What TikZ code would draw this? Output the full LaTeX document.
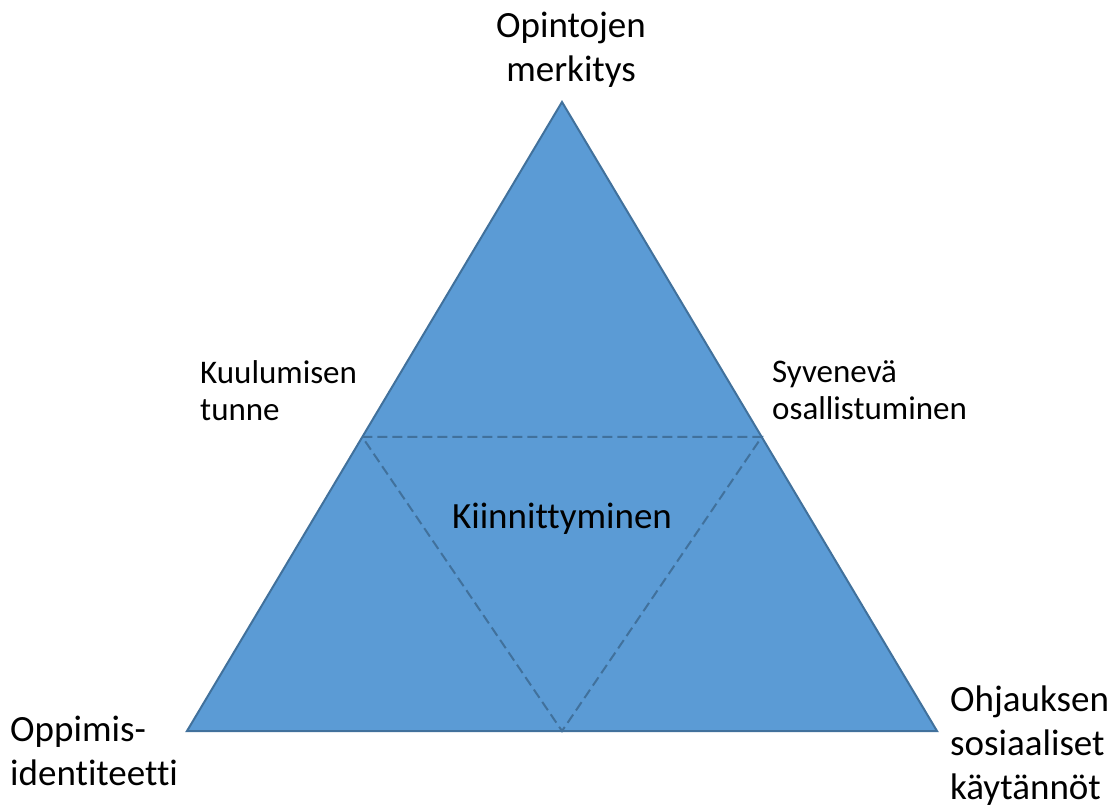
\documentclass[tikz,border=0pt]{standalone}
\usepackage{fontspec}
\usetikzlibrary{calc}
\setmainfont{Carlito}[Ligatures=NoCommon]
\definecolor{triFill}{HTML}{5B9BD5}
\definecolor{triLine}{HTML}{41719C}
\begin{document}
\begin{tikzpicture}[x=1pt,y=-1pt,
  bigtxt/.style={font=\fontsize{37}{44}\selectfont, inner sep=0pt},
  smalltxt/.style={font=\fontsize{33}{37}\selectfont, inner sep=0pt},
  edge/.style={draw=triLine, line width=2pt, line join=miter},
  inner/.style={draw=triLine, line width=2pt, dash pattern=on 10pt off 5pt}]
\useasboundingbox (0,0) rectangle (1116,809);
% outer triangle
\coordinate (top) at (562,102);
\coordinate (bl) at (187,731);
\coordinate (br) at (937,731);
% inner (dashed) triangle: upper side at y = 437, lower tip on the base
\coordinate (il) at ($(top)!{(437-102)/629}!(bl)$);
\coordinate (ir) at ($(top)!{(437-102)/629}!(br)$);
\coordinate (mb) at ($(bl)!0.5!(br)$);
\fill[triFill] (top) -- (bl) -- (br) -- cycle;
\draw[inner] (il) -- (ir) -- (mb) -- cycle;
\draw[edge] (top) -- (bl) -- (br) -- cycle;
% labels
\node[bigtxt, align=center, anchor=north] (meaning) at (571,12) {Opintojen\\merkitys};
\node[smalltxt, align=left, anchor=north west] (belong) at (200,360) {Kuulumisen\\tunne};
\node[smalltxt, align=left, anchor=north west] (deep) at (772,360) {Syvenevä\\osallistuminen};
\node[bigtxt, anchor=base] (attach) at (562,528) {Kiinnittyminen};
\node[bigtxt, align=left, anchor=north west] (ident) at (10,716) {Oppimis-\\identiteetti};
\node[bigtxt, align=left, anchor=north west] (guide) at (950,686) {Ohjauksen\\sosiaaliset\\käytännöt};
\end{tikzpicture}
\end{document}
